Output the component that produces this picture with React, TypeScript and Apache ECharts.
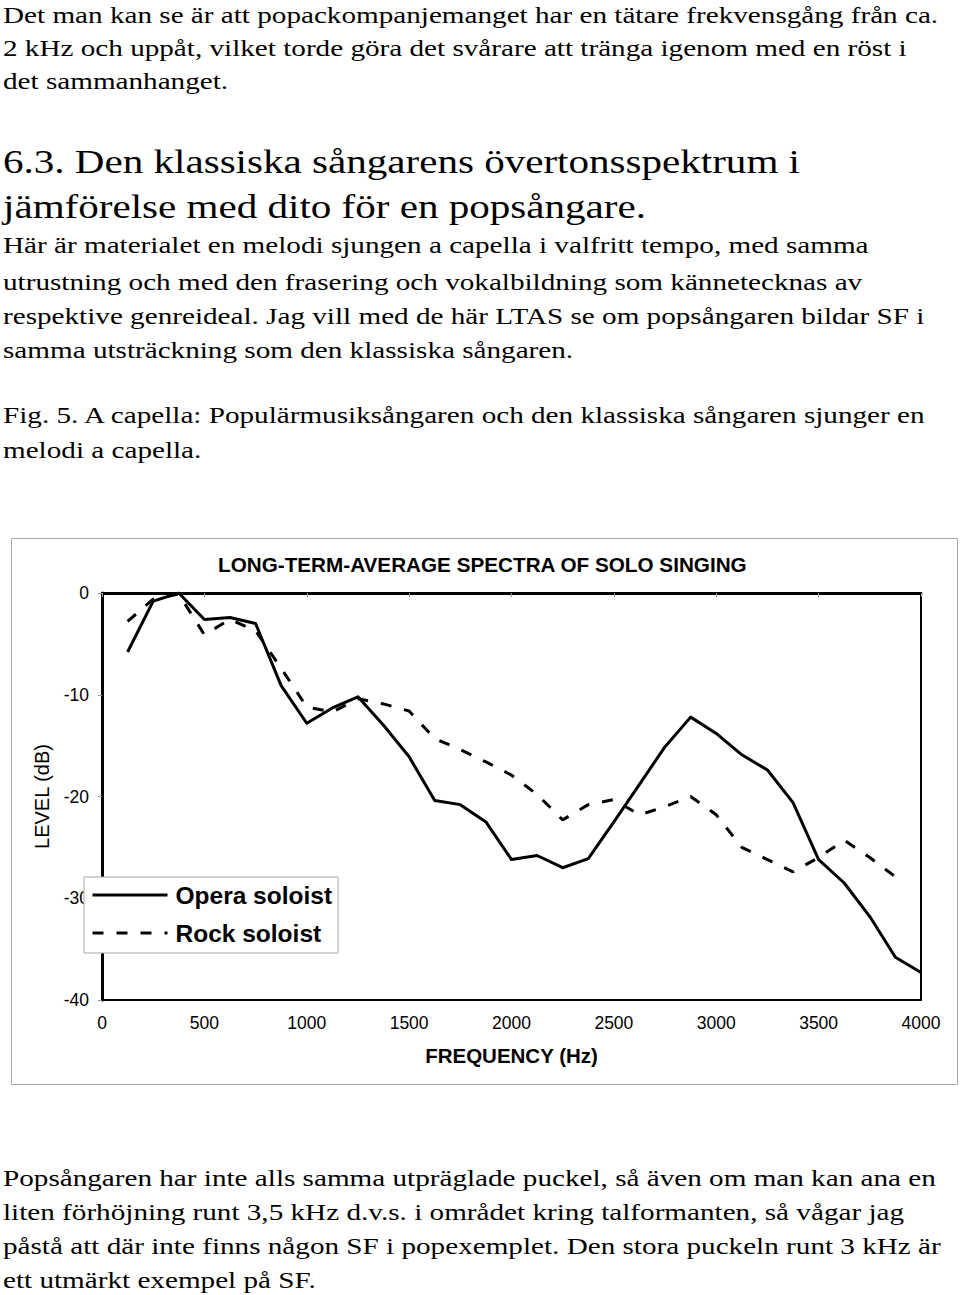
import React, { useEffect, useRef } from "react";
import * as echarts from "echarts";

// ---------- data ----------
const frequencies = [
  125, 250, 375, 500, 625, 750, 875, 1000, 1125, 1250, 1375, 1500, 1625, 1750,
  1875, 2000, 2125, 2250, 2375, 2500, 2625, 2750, 2875, 3000, 3125, 3250, 3375,
  3500, 3625, 3750, 3875, 4000,
];
const operaSoloist = [
  -5.8, -0.8, 0.0, -2.6, -2.4, -3.0, -9.1, -12.8, -11.3, -10.2, -13.0, -16.1,
  -20.4, -20.8, -22.5, -26.2, -25.8, -27.0, -26.1, -22.5, -18.8, -15.1, -12.2,
  -13.8, -15.9, -17.4, -20.6, -26.2, -28.5, -31.8, -35.8, -37.3,
];
const rockSoloist = [
  -2.8, -0.6, -0.1, -4.1, -2.6, -3.7, -7.4, -11.2, -11.7, -10.4, -10.9, -11.6,
  -14.3, -15.4, -16.6, -17.9, -19.8, -22.3, -20.8, -20.3, -21.8, -21.0, -20.0,
  -21.8, -25.0, -26.2, -27.4, -26.0, -24.3, -26.0, -27.9,
];
const seriesNames = ["Opera soloist", "Rock soloist"];
const chartTitle = "LONG-TERM-AVERAGE SPECTRA OF SOLO SINGING";
const xAxisName = "FREQUENCY (Hz)";
const yAxisName = "LEVEL (dB)";

// ---------- page text ----------
const para1 = [
  "Det man kan se är att popackompanjemanget har en tätare frekvensgång från ca.",
  "2 kHz och uppåt, vilket torde göra det svårare att tränga igenom med en röst i",
  "det sammanhanget.",
];
const heading = [
  "6.3. Den klassiska sångarens övertonsspektrum i",
  "jämförelse med dito för en popsångare.",
];
const para2 = [
  "Här är materialet en melodi sjungen a capella i valfritt tempo, med samma",
  "utrustning och med den frasering och vokalbildning som kännetecknas av",
  "respektive genreideal. Jag vill med de här LTAS se om popsångaren bildar SF i",
  "samma utsträckning som den klassiska sångaren.",
];
const caption = [
  "Fig. 5. A capella: Populärmusiksångaren och den klassiska sångaren sjunger en",
  "melodi a capella.",
];
const para3 = [
  "Popsångaren har inte alls samma utpräglade puckel, så även om man kan ana en",
  "liten förhöjning runt 3,5 kHz d.v.s. i området kring talformanten, så vågar jag",
  "påstå att där inte finns någon SF i popexemplet. Den stora puckeln runt 3 kHz är",
  "ett utmärkt exempel på SF.",
];

const SERIF = "'Liberation Serif', 'Times New Roman', serif";
const SANS = "'Liberation Sans', Arial, sans-serif";

type Block = { lines: string[]; baselines: number[]; size: number; sx: number };
const blocks: Block[] = [
  { lines: para1, baselines: [23, 56, 89], size: 24, sx: 1.215 },
  { lines: heading, baselines: [173, 218], size: 34.5, sx: 1.19 },
  { lines: para2, baselines: [253, 290, 324, 358], size: 24, sx: 1.215 },
  { lines: caption, baselines: [423, 458], size: 24, sx: 1.215 },
  { lines: para3, baselines: [1186, 1220, 1254, 1288], size: 24, sx: 1.215 },
];

export default function App() {
  const ref = useRef<HTMLDivElement>(null);

  useEffect(() => {
    if (!ref.current) return;
    const chart = echarts.init(ref.current, undefined, { renderer: "svg" });
    const opera = frequencies.map((f, i) => [f, operaSoloist[i]]);
    const rock = rockSoloist.map((v, i) => [frequencies[i], v]);
    chart.setOption({
      animation: false,
      backgroundColor: "transparent",
      title: {
        text: chartTitle,
        left: 218,
        top: 554,
        padding: 0,
        textStyle: {
          fontFamily: SANS,
          fontWeight: "bold",
          fontSize: 20.7,
          color: "#000",
        },
      },
      graphic: [
        {
          type: "rect",
          silent: true,
          z: -10,
          shape: { x: 11.5, y: 538.5, width: 946, height: 546 },
          style: { fill: "none", stroke: "#a8a8a8", lineWidth: 1 },
        },
      ],
      grid: {
        left: 102,
        top: 593,
        width: 819,
        height: 407,
        show: true,
        borderColor: "#000",
        borderWidth: 2,
        backgroundColor: "transparent",
      },
      legend: {
        orient: "vertical",
        left: 84,
        top: 877,
        data: seriesNames,
        backgroundColor: "#fff",
        borderColor: "#aaa",
        borderWidth: 1,
        borderRadius: 0,
        padding: [4, 6, 6, 7],
        itemGap: 10,
        itemWidth: 75,
        itemHeight: 14,
        lineStyle: { width: 3 },
        itemStyle: { color: "rgba(0,0,0,0)", borderWidth: 0, opacity: 0 },
        textStyle: {
          fontFamily: SANS,
          fontWeight: "bold",
          fontSize: 24.5,
          color: "#000",
          lineHeight: 28,
          padding: [0, 0, 0, 3],
        },
      },
      xAxis: {
        type: "value",
        min: 0,
        max: 4000,
        interval: 500,
        name: xAxisName,
        nameLocation: "middle",
        nameGap: 45,
        nameTextStyle: {
          fontFamily: SANS,
          fontWeight: "bold",
          fontSize: 20.5,
          color: "#000",
        },
        axisLine: { show: true, lineStyle: { color: "#000", width: 3 } },
        axisTick: { show: true, length: 4, lineStyle: { color: "#999", width: 1 } },
        axisLabel: {
          fontFamily: SANS,
          fontSize: 17.5,
          color: "#000",
          margin: 14,
          formatter: (v: number) => String(v),
        },
        splitLine: { show: false },
      },
      yAxis: {
        type: "value",
        min: -40,
        max: 0,
        interval: 10,
        name: yAxisName,
        nameLocation: "middle",
        nameRotate: 90,
        nameGap: 50,
        nameTextStyle: { fontFamily: SANS, fontSize: 20, color: "#000" },
        axisLine: { show: true, lineStyle: { color: "#000", width: 3 } },
        axisTick: { show: true, length: 4, lineStyle: { color: "#999", width: 1 } },
        axisLabel: {
          fontFamily: SANS,
          fontSize: 17.5,
          color: "#000",
          margin: 13,
          formatter: (v: number) => String(v),
        },
        splitLine: { show: false },
      },
      series: [
        {
          name: seriesNames[0],
          type: "line",
          data: opera,
          symbol: "none",
          lineStyle: { color: "#000", width: 3, join: "round" },
          itemStyle: { color: "#000" },
          z: 3,
        },
        {
          name: seriesNames[1],
          type: "line",
          data: rock,
          symbol: "none",
          lineStyle: { color: "#000", width: 3, type: [11, 13] },
          itemStyle: { color: "#000" },
          z: 2,
        },
      ],
    });
    return () => chart.dispose();
  }, []);

  return (
    <div
      style={{
        position: "absolute",
        left: 0,
        top: 0,
        width: 960,
        height: 1295,
        background: "#fff",
        overflow: "hidden",
      }}
    >
      <div
        ref={ref}
        style={{ position: "absolute", left: 0, top: 0, width: 960, height: 1295 }}
      />
      {blocks.map((b, bi) =>
        b.lines.map((line, li) => (
          <div
            key={bi + "-" + li}
            style={{
              position: "absolute",
              left: 3,
              top: b.baselines[li] - 0.8375 * b.size,
              fontFamily: SERIF,
              fontSize: b.size,
              lineHeight: b.size + "px",
              whiteSpace: "nowrap",
              color: "#000",
              pointerEvents: "none",
              transform: `scaleX(${b.sx})`,
              transformOrigin: "0 0",
            }}
          >
            {line}
          </div>
        ))
      )}
    </div>
  );
}
